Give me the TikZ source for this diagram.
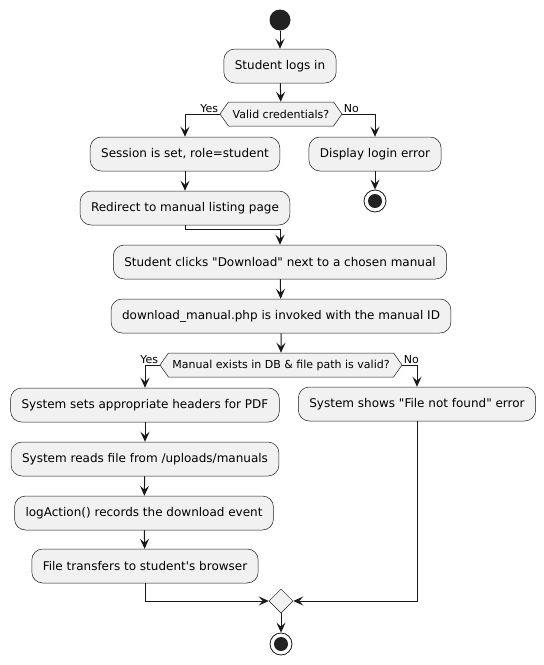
\documentclass[tikz,border=0pt]{standalone}
\usepackage{fontspec}
\setmainfont{DejaVu Sans}[Ligatures=TeXOff]
\usetikzlibrary{arrows.meta,shapes.geometric,shapes.symbols}
\definecolor{umlfill}{HTML}{F1F1F1}
\definecolor{umlline}{HTML}{181818}
\definecolor{umldot}{HTML}{222222}

\begin{document}
\begin{tikzpicture}[x=1pt,y=-1pt,
        font=\fontsize{12}{14}\selectfont,
        act/.style={draw=umlline,fill=umlfill,line width=0.5pt,rounded corners=11pt,minimum height=34pt,inner xsep=11pt},
        test/.style={draw=umlline,fill=umlfill,line width=0.5pt,signal,signal to=west and east,signal pointer angle=110,minimum height=24pt,inner xsep=2pt,font=\fontsize{11}{13}\selectfont},
        merge/.style={draw=umlline,fill=umlfill,line width=0.5pt,diamond,minimum size=24pt,inner sep=0pt},
        startnode/.style={circle,fill=umldot,minimum size=21pt,inner sep=0pt},
        stopnode/.style={circle,draw=umlline,fill=white,line width=0.8pt,minimum size=22pt,inner sep=0pt,
            path picture={\fill[umldot] (path picture bounding box.center) circle (7pt);}},
        flow/.style={draw=umlline,line width=1pt,-{Stealth[length=10pt,width=9pt,inset=4pt]}},
        lbl/.style={font=\fontsize{11}{13}\selectfont,inner sep=1pt}]

    \useasboundingbox (0,0) rectangle (544,665);

    % login part
    \node[startnode] (start) at (280,20) {};
    \node[act] (login) at (280,66) {Student logs in};
    \node[test,minimum width=122pt] (valid) at (281,114) {Valid credentials?};
    \node[act] (session) at (185,154) {Session is set, role=student};
    \node[act] (loginerr) at (375,154) {Display login error};
    \node[stopnode] (stop1) at (375,201) {};
    \node[act] (redirect) at (185,208) {Redirect to manual listing page};

    % download part
    \node[act] (click) at (280,262) {Student clicks "Download" next to a chosen manual};
    \node[act] (invoke) at (281,316) {download\_manual.php is invoked with the manual ID};
    \node[test,minimum width=242pt] (exists) at (281,365) {Manual exists in DB \& file path is valid?};
    \node[act] (headers) at (145,405) {System sets appropriate headers for PDF};
    \node[act] (notfound) at (417,404) {System shows "File not found" error};
    \node[act] (readfile) at (145,459) {System reads file from /uploads/manuals};
    \node[act] (logact) at (144,513) {logAction() records the download event};
    \node[act] (transfer) at (145,566) {File transfers to student's browser};
    \node[merge] (join) at (281,601) {};
    \node[stopnode] (stop2) at (281,644) {};

    \draw[flow] (start) -- (login);
    \draw[flow] (login) -- (valid);
    \draw[flow] (valid.west) -| (session.north) node[lbl,pos=0,above left] {Yes};
    \draw[flow] (valid.east) -| (loginerr.north) node[lbl,pos=0,above right] {No};
    \draw[flow] (loginerr) -- (stop1);
    \draw[flow] (session) -- (redirect);
    \draw[flow] (redirect.south) -- ++(0,4) -| (click.north);
    \draw[flow] (click) -- (invoke);
    \draw[flow] (invoke) -- (exists);
    \draw[flow] (exists.west) -| (headers.north) node[lbl,pos=0,above left] {Yes};
    \draw[flow] (exists.east) -| (notfound.north) node[lbl,pos=0,above right] {No};
    \draw[flow] (headers) -- (readfile);
    \draw[flow] (readfile) -- (logact);
    \draw[flow] (logact) -- (transfer);
    \draw[flow] (transfer.south) |- (join.west);
    \draw[flow] (notfound.south) |- (join.east);
    \draw[flow] (join) -- (stop2);
\end{tikzpicture}
\end{document}
